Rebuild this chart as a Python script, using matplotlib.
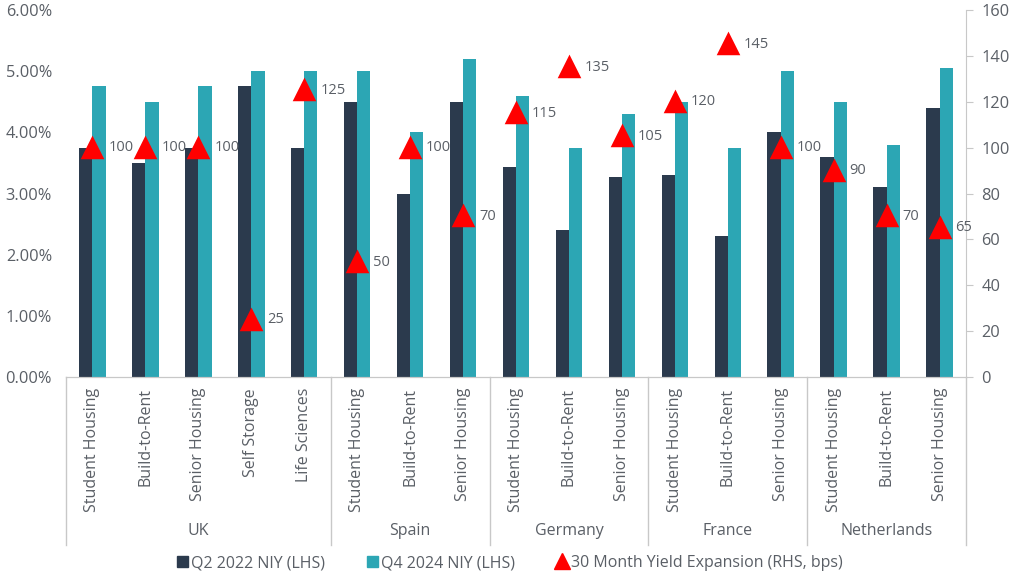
import numpy as np
import matplotlib.pyplot as plt
from matplotlib.lines import Line2D
from matplotlib.patches import Patch
from matplotlib.ticker import FuncFormatter
import matplotlib.transforms as mtransforms

plt.rcParams['font.family'] = ['Open Sans', 'DejaVu Sans']

GROUPS = ["UK", "Spain", "Germany", "France", "Netherlands"]
GROUP_SIZES = [5, 3, 3, 3, 3]
SECTORS = ["Student Housing", "Build-to-Rent", "Senior Housing", "Self Storage", "Life Sciences",
           "Student Housing", "Build-to-Rent", "Senior Housing",
           "Student Housing", "Build-to-Rent", "Senior Housing",
           "Student Housing", "Build-to-Rent", "Senior Housing",
           "Student Housing", "Build-to-Rent", "Senior Housing"]
NIY_Q2_2022 = [3.75, 3.50, 3.75, 4.75, 3.75,
               4.50, 3.00, 4.50,
               3.43, 2.40, 3.27,
               3.31, 2.30, 4.00,
               3.60, 3.11, 4.40]
NIY_Q4_2024 = [4.75, 4.50, 4.75, 5.00, 5.00,
               5.00, 4.00, 5.20,
               4.60, 3.75, 4.30,
               4.50, 3.75, 5.00,
               4.50, 3.80, 5.05]
EXPANSION_BPS = [100, 100, 100, 25, 125,
                 50, 100, 70,
                 115, 135, 105,
                 120, 145, 100,
                 90, 70, 65]

DARK = "#2b3a4d"
TEAL = "#2ca6b4"
RED = "#ff0000"
GREY = "#5a5f66"
LINE = "#c8c8c8"

fig = plt.figure(figsize=(10.1, 5.74), dpi=100)
ax = fig.add_axes([66 / 1010, 1 - 377 / 574, 900 / 1010, 367 / 574])
ax2 = ax.twinx()

x = np.arange(len(SECTORS))
w = 0.25
ax.bar(x - w / 2, NIY_Q2_2022, width=w, color=DARK, zorder=2)
ax.bar(x + w / 2, NIY_Q4_2024, width=w, color=TEAL, zorder=2)

ax2.plot(x, EXPANSION_BPS, linestyle="none", marker="^", markersize=13,
         color=RED, markeredgecolor=RED, markeredgewidth=2.5, zorder=5)
for xi, v in zip(x, EXPANSION_BPS):
    ax2.annotate(f"{v}", (xi, v), xytext=(11.5, 0), textcoords="offset points",
                 va="center", ha="left", fontsize=10.5, color=GREY)

ax.set_xlim(-0.5, len(SECTORS) - 0.5)
ax.set_ylim(0, 6)
ax2.set_ylim(0, 160)
ax.set_yticks(np.arange(0, 7, 1))
ax.yaxis.set_major_formatter(FuncFormatter(lambda v, _: f"{v:.2f}%"))
ax2.set_yticks(np.arange(0, 161, 20))

ax.set_xticks(x)
ax.set_xticklabels(SECTORS, rotation=90, fontsize=11.5, color=GREY)
ax.tick_params(axis="x", length=0, pad=8)
ax.tick_params(axis="y", length=0, labelsize=11.8, labelcolor=GREY, pad=10)
ax2.tick_params(axis="y", length=5, color=LINE, labelsize=11.8, labelcolor=GREY, pad=6)

for a in (ax, ax2):
    for s in ("top", "left", "right"):
        a.spines[s].set_visible(False)
    a.spines["bottom"].set_color(LINE)
ax2.spines["right"].set_visible(True)
ax2.spines["right"].set_color(LINE)

# group labels and separators
trans = mtransforms.blended_transform_factory(ax.transData, ax.transAxes)
start = 0
bounds = [-0.5]
for g, n in zip(GROUPS, GROUP_SIZES):
    centre = start + (n - 1) / 2
    ax.text(centre, -0.42, g, transform=trans, ha="center", va="center",
            fontsize=11.5, color=GREY)
    start += n
    bounds.append(start - 0.5)
for b in bounds:
    ax.plot([b, b], [0, -0.458], transform=trans, color=LINE, linewidth=1,
            clip_on=False)

handles = [Patch(color=DARK), Patch(color=TEAL),
           Line2D([], [], linestyle="none", marker="^", markersize=11, color=RED)]
labels = ["Q2 2022 NIY (LHS)", "Q4 2024 NIY (LHS)", "30 Month Yield Expansion (RHS, bps)"]
fig.legend(handles, labels, loc="center", bbox_to_anchor=(0.505, 1 - 563 / 574), ncol=3,
           frameon=False, fontsize=11.5, labelcolor=GREY, handlelength=0.7,
           handleheight=0.7, handletextpad=0.2, columnspacing=2.6)

fig.savefig("out.png", dpi=100)
